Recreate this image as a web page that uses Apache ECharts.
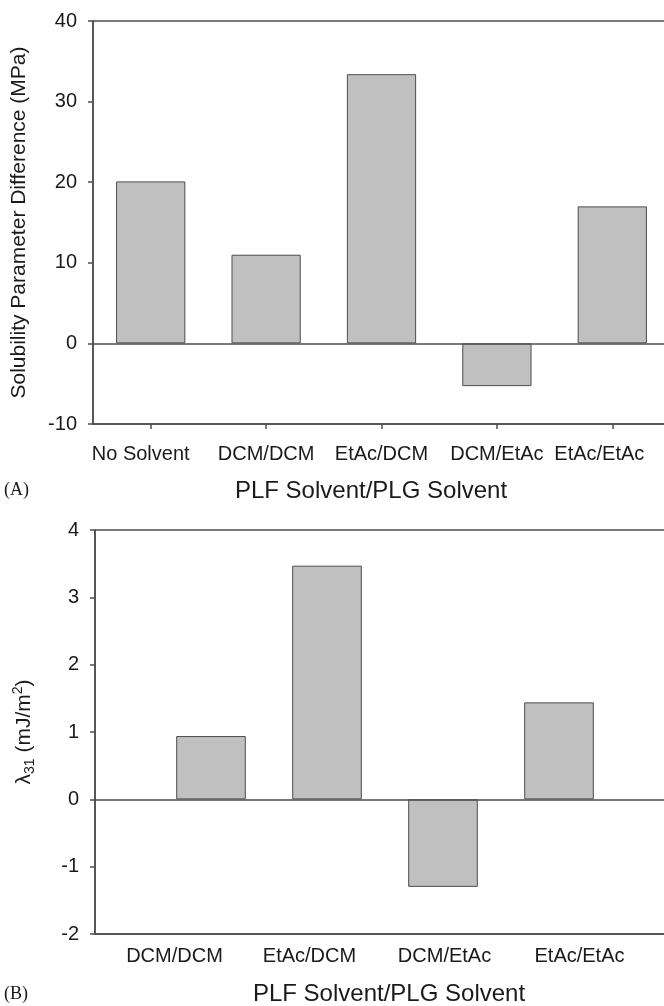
<!DOCTYPE html>
<html><head><meta charset="utf-8">
<script src="https://cdn.jsdelivr.net/npm/echarts@6/dist/echarts.min.js"></script>
<style>html,body{margin:0;padding:0;background:#fff}#c{width:664px;height:1006px}</style>
</head><body><div id="c"></div>
<script>
// ---- data ----
const categoriesA = ['No Solvent', 'DCM/DCM', 'EtAc/DCM', 'DCM/EtAc', 'EtAc/EtAc'];
const valuesA = [20.1, 11.0, 33.4, -5.3, 17.0];
const yTicksA = [-10, 0, 10, 20, 30, 40];

const categoriesB = ['DCM/DCM', 'EtAc/DCM', 'DCM/EtAc', 'EtAc/EtAc'];
const valuesB = [0.94, 3.47, -1.30, 1.44];
const yTicksB = [-2, -1, 0, 1, 2, 3, 4];

const xTitle = 'PLF Solvent/PLG Solvent';
const yTitleA = 'Solubility Parameter Difference (MPa)';

// ---- styles ----
const FONT = '"Liberation Sans", Arial, Helvetica, sans-serif';
const TXT = '#1a1a1a';
const AX = '#4d4d4d';
const BAR = '#c0c0c0';
const labelPadA = [[0, 20, 0, 0], null, null, null, [0, 26, 0, 0]];

const chart = echarts.init(document.getElementById('c'));

function yAxisCommon(ticks, gridIndex) {
  return {
    type: 'value', gridIndex,
    min: ticks[0], max: ticks[ticks.length - 1], interval: ticks[1] - ticks[0],
    axisLine: { show: true, lineStyle: { color: AX, width: 1.5 } },
    axisTick: { show: true, inside: false, length: 5, lineStyle: { color: AX, width: 1.5 } },
    axisLabel: { color: TXT, fontSize: 20, fontFamily: FONT, margin: 16 },
    splitLine: { show: false },
    nameLocation: 'middle',
    nameTextStyle: { color: TXT, fontSize: 21, fontFamily: FONT }
  };
}
const zeroLine = {
  silent: true, symbol: 'none', label: { show: false },
  lineStyle: { color: AX, width: 1.5, type: 'solid' },
  data: [{ yAxis: 0 }]
};

const option = {
  animation: false,
  backgroundColor: '#fff',
  grid: [
    { left: 93, top: 21, width: 577, height: 403, outerBoundsMode: 'none', containLabel: false, show: true, borderColor: AX, borderWidth: 1.5, backgroundColor: 'transparent' },
    { left: 95, top: 530, width: 580, height: 404, outerBoundsMode: 'none', containLabel: false, show: true, borderColor: AX, borderWidth: 1.5, backgroundColor: 'transparent' },
    { left: 107, top: 530, width: 540, height: 404, outerBoundsMode: 'none', containLabel: false, show: false }
  ],
  xAxis: [
    {
      type: 'category', gridIndex: 0,
      data: categoriesA.map((c, i) => labelPadA[i] ? { value: c, textStyle: { padding: labelPadA[i] } } : c),
      axisLine: { show: true, onZero: false, lineStyle: { color: AX, width: 1.5 } },
      axisTick: { show: true, alignWithLabel: true, length: 5, lineStyle: { color: AX, width: 1.5 } },
      axisLabel: { color: TXT, fontSize: 20, fontFamily: FONT, margin: 20, interval: 0 },
      name: xTitle, nameLocation: 'middle', nameGap: 55,
      nameTextStyle: { color: TXT, fontSize: 24, fontFamily: FONT, padding: [0, 21, 0, 0] }
    },
    {
      type: 'category', gridIndex: 1, boundaryGap: false,
      data: ['', ...categoriesB, ''],
      axisLine: { show: true, onZero: false, lineStyle: { color: AX, width: 1.5 } },
      axisTick: { show: false },
      axisLabel: { show: false },
      name: xTitle, nameLocation: 'middle', nameGap: 48,
      nameTextStyle: { color: TXT, fontSize: 24, fontFamily: FONT, padding: [0, 0, 0, 8] }
    },
    {
      type: 'category', gridIndex: 2,
      data: categoriesB,
      axisLine: { show: false }, axisTick: { show: false },
      axisLabel: { color: TXT, fontSize: 20, fontFamily: FONT, margin: 12, interval: 0 }
    }
  ],
  yAxis: [
    Object.assign(yAxisCommon(yTicksA, 0), { name: yTitleA, nameGap: 63 }),
    Object.assign(yAxisCommon(yTicksB, 1), {
      name: '{a|λ}{sub|31}{a| (mJ/m}{sup|2}{a|)}', nameGap: 58,
      nameTextStyle: {
        color: TXT, fontSize: 21, fontFamily: FONT,
        rich: {
          a: { fontSize: 21, fontFamily: FONT, color: TXT },
          sub: { fontSize: 14, fontFamily: FONT, color: TXT, padding: [12, 0, 0, 0] },
          sup: { fontSize: 14, fontFamily: FONT, color: TXT, padding: [0, 0, 12, 0] }
        }
      }
    }),
    { type: 'value', gridIndex: 2, show: false, min: 0, max: 1 }
  ],
  series: [
    {
      type: 'bar', xAxisIndex: 0, yAxisIndex: 0, data: valuesA, barWidth: '60%',
      itemStyle: { color: BAR, borderColor: AX, borderWidth: 1 },
      markLine: zeroLine
    },
    {
      type: 'bar', xAxisIndex: 1, yAxisIndex: 1, data: [null, ...valuesB, null], barWidth: '60%',
      itemStyle: { color: BAR, borderColor: AX, borderWidth: 1 },
      markLine: zeroLine
    }
  ],
  graphic: [
    { type: 'text', left: 4, top: 481, style: { text: '(A)', fontSize: 18, fontFamily: '"Liberation Serif", "Times New Roman", serif', fill: TXT } },
    { type: 'text', left: 4, top: 985, style: { text: '(B)', fontSize: 18, fontFamily: '"Liberation Serif", "Times New Roman", serif', fill: TXT } }
  ]
};
chart.setOption(option);
</script>
</body></html>
